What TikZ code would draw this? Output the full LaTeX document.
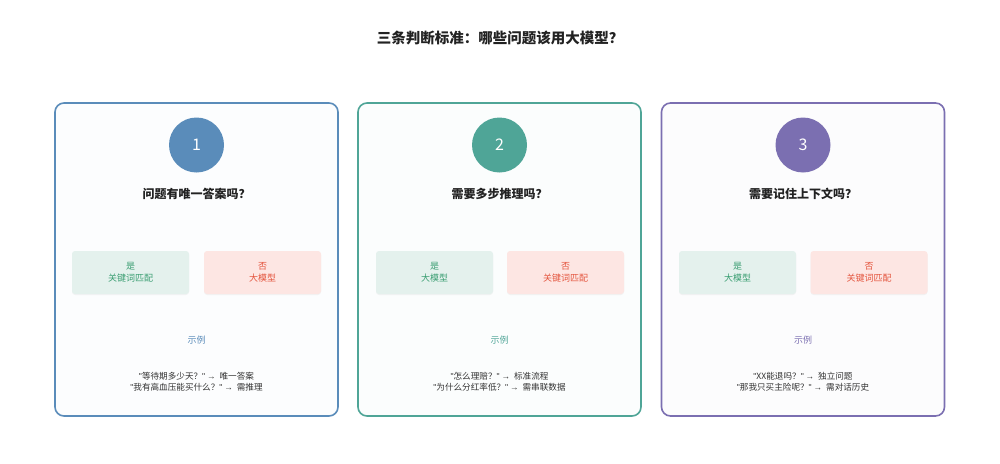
\documentclass[tikz,border=0pt]{standalone}
\usepackage{fontspec}
\setmainfont{Noto Sans CJK SC}
\newfontfamily\latfont{Liberation Sans}
\usetikzlibrary{shadows}
\definecolor{cblue}{HTML}{5A8CBA}
\definecolor{cteal}{HTML}{4FA597}
\definecolor{cpurple}{HTML}{7B6FB1}
\definecolor{yesfill}{HTML}{E4F1ED}
\definecolor{nofill}{HTML}{FDE6E3}
\definecolor{yestext}{HTML}{3A9E72}
\definecolor{notext}{HTML}{E4553E}
\definecolor{titletext}{HTML}{222222}
\definecolor{extext}{HTML}{333333}
\newcommand{\qq}{{\latfont"}}
\newcommand{\arr}{\ {\latfont →}\ \ }
\tikzset{
  card/.style={draw=#1, line width=1.6pt, rounded corners=9pt, fill=#1!2, minimum width=283pt, minimum height=313pt, inner sep=0pt},
  numcircle/.style={circle, fill=#1, minimum size=55pt, inner sep=0pt, text=white, font=\fontsize{16}{18}\selectfont},
  question/.style={font=\fontsize{12}{14}\selectfont\bfseries, text=titletext},
  yesbox/.style={rounded corners=3pt, fill=yesfill, minimum width=117pt, minimum height=43pt, inner sep=0pt, align=center, text=yestext, font=\fontsize{9}{11.5}\selectfont, drop shadow={shadow xshift=0pt, shadow yshift=-1pt, opacity=0.08}},
  nobox/.style={rounded corners=3pt, fill=nofill, minimum width=117pt, minimum height=43pt, inner sep=0pt, align=center, text=notext, font=\fontsize{9}{11.5}\selectfont, drop shadow={shadow xshift=0pt, shadow yshift=-1pt, opacity=0.08}},
  exlabel/.style={font=\fontsize{9}{10}\selectfont, text=#1},
  examples/.style={font=\fontsize{8.6}{11}\selectfont, text=extext, align=center},
}
\begin{document}
\begin{tikzpicture}[x=1pt,y=-1pt]
\useasboundingbox[fill=white] (0,0) rectangle (1000,463);
\node[font=\fontsize{14.5}{16}\selectfont\bfseries, text=titletext] (title) at (500,38) {三条判断标准：哪些问题该用大模型？};

% Card 1
\node[card=cblue] (card1) at (196.5,259.5) {};
\node[numcircle=cblue] (n1) at (196.5,145) {1};
\node[question] (q1) at (196.5,194) {问题有唯一答案吗？};
\node[yesbox] (y1) at (130.5,272.5) {是\\关键词匹配};
\node[nobox] (no1) at (262.5,272.5) {否\\大模型};
\node[exlabel=cblue] (e1) at (196.5,340) {示例};
\node[examples] (x1) at (196.5,381.5) {\qq 等待期多少天？\qq\arr 唯一答案\\\qq 我有高血压能买什么？\qq\arr 需推理};

% Card 2
\node[card=cteal] (card2) at (499.5,259.5) {};
\node[numcircle=cteal] (n2) at (499.5,145) {2};
\node[question] (q2) at (499.5,194) {需要多步推理吗？};
\node[yesbox] (y2) at (434.5,272.5) {是\\大模型};
\node[nobox] (no2) at (565.5,272.5) {否\\关键词匹配};
\node[exlabel=cteal] (e2) at (499.5,340) {示例};
\node[examples] (x2) at (499.5,381.5) {\qq 怎么理赔？\qq\arr 标准流程\\\qq 为什么分红率低？\qq\arr 需串联数据};

% Card 3
\node[card=cpurple] (card3) at (803,259.5) {};
\node[numcircle=cpurple] (n3) at (803,145) {3};
\node[question] (q3) at (803,194) {需要记住上下文吗？};
\node[yesbox] (y3) at (737.5,272.5) {是\\大模型};
\node[nobox] (no3) at (869,272.5) {否\\关键词匹配};
\node[exlabel=cpurple] (e3) at (803,340) {示例};
\node[examples] (x3) at (803,381.5) {\qq XX能退吗？\qq\arr 独立问题\\\qq 那我只买主险呢？\qq\arr 需对话历史};
\end{tikzpicture}
\end{document}
